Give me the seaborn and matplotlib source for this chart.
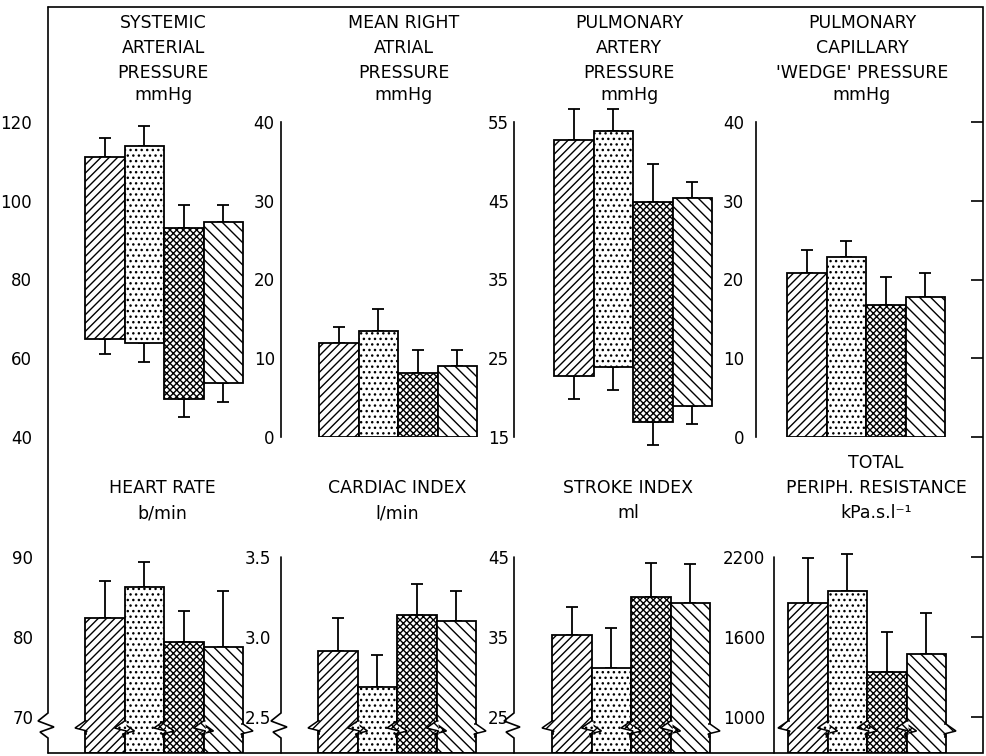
import numpy as np
import pandas as pd
import matplotlib
matplotlib.use("Agg")
import matplotlib.pyplot as plt
from matplotlib.patches import Polygon
from matplotlib.lines import Line2D
import seaborn as sns

W, H, DPI = 986, 756, 100

# ---- data -------------------------------------------------------------
conditions = ["I", "II", "III", "IV"]
hatches = ["////", "...", "xxxxx", "\\\\\\"]

# systemic arterial pressure: systolic (bar top) and diastolic (bar bottom), mmHg
sap_sys = [111.0, 114.0, 93.0, 94.7]
sap_sys_sd = [5.0, 5.0, 6.0, 4.3]
sap_dia = [65.0, 64.0, 49.6, 53.7]
sap_dia_sd = [4.0, 5.0, 4.6, 4.7]
sap_ticks = [40, 60, 80, 100, 120]

# mean right atrial pressure, mmHg
mrap = [12.0, 13.4, 8.1, 9.0]
mrap_sd = [2.0, 2.9, 2.9, 2.0]
mrap_ticks = [0, 10, 20, 30, 40]

# pulmonary artery pressure: systolic and diastolic, mmHg
pap_sys = [52.7, 53.9, 44.9, 45.4]
pap_sys_sd = [3.9, 2.7, 4.8, 2.0]
pap_dia = [22.8, 23.9, 16.9, 18.9]
pap_dia_sd = [3.0, 2.9, 2.9, 2.3]
pap_ticks = [15, 25, 35, 45, 55]

# pulmonary capillary wedge pressure, mmHg
pcwp = [20.8, 22.8, 16.8, 17.8]
pcwp_sd = [3.0, 2.1, 3.5, 3.0]
pcwp_ticks = [0, 10, 20, 30, 40]

# heart rate, b/min
hr = [82.4, 86.3, 79.4, 78.7]
hr_sd = [4.6, 3.1, 3.9, 7.0]
hr_ticks = [70, 80, 90]

# cardiac index, l/min
ci = [2.91, 2.69, 3.14, 3.10]
ci_sd = [0.21, 0.20, 0.19, 0.19]
ci_ticks = [2.5, 3.0, 3.5]
ci_tick_labels = ["2.5", "3.0", "3.5"]

# stroke index, ml
si = [35.2, 31.1, 40.0, 39.2]
si_sd = [3.6, 5.0, 4.2, 4.9]
si_ticks = [25, 35, 45]

# total peripheral resistance, kPa.s.l-1
tpr = [1853, 1945, 1335, 1472]
tpr_sd = [342, 275, 300, 306]
tpr_ticks = [1000, 1600, 2200]

titles = [
    ["SYSTEMIC", "ARTERIAL", "PRESSURE", "mmHg"],
    ["MEAN RIGHT", "ATRIAL", "PRESSURE", "mmHg"],
    ["PULMONARY", "ARTERY", "PRESSURE", "mmHg"],
    ["PULMONARY", "CAPILLARY", "'WEDGE' PRESSURE", "mmHg"],
    ["HEART RATE", "b/min"],
    ["CARDIAC INDEX", "l/min"],
    ["STROKE INDEX", "ml"],
    ["TOTAL", "PERIPH. RESISTANCE", "kPa.s.l\u207b\u00b9"],
]

# ---- style ------------------------------------------------------------
sns.set_style("white")
plt.rcParams["font.family"] = ["DejaVu Sans"]
plt.rcParams["text.color"] = "black"
plt.rcParams["ytick.color"] = "black"
plt.rcParams["ytick.labelcolor"] = "black"
plt.rcParams["hatch.linewidth"] = 1.0
plt.rcParams["hatch.color"] = "black"

LW = 1.3          # outline width (pt)
BAR_W = 39.5      # px per category
fig = plt.figure(figsize=(W / DPI, H / DPI), dpi=DPI)


def fx(px):
    return px / W


def fy(py):
    return 1 - py / H


def fig_line(points, lw=1.2):
    xs = [fx(p[0]) for p in points]
    ys = [fy(p[1]) for p in points]
    fig.add_artist(Line2D(xs, ys, transform=fig.transFigure, color="black",
                          lw=lw, solid_joinstyle="miter"))


def panel(xs, xb, xr, ytop, ybot, tops, up, ticks, labels, ylim, pad,
          bottoms=None, down=None, spine=True, right_ticks=False):
    ax = fig.add_axes([fx(xs), fy(ybot), (xr - xs) / W, (ybot - ytop) / H])
    ax.patch.set_visible(False)
    df = pd.DataFrame({"condition": conditions, "value": tops})
    sns.barplot(data=df, x="condition", y="value", hue="condition",
                order=conditions, hue_order=conditions,
                palette=["white"] * len(conditions), legend=False,
                width=1.0, edgecolor="black", linewidth=LW,
                errorbar=None, ax=ax, zorder=3)
    bars = sorted(ax.patches, key=lambda p: p.get_x())
    for i, (p, h) in enumerate(zip(bars, hatches)):
        lo = bottoms[i] if bottoms is not None else ylim[0]
        p.set_y(lo)
        p.set_height(tops[i] - lo)
        p.set_hatch(h)

    xpos = np.arange(len(conditions))
    zeros = np.zeros(len(conditions))
    ebs = [ax.errorbar(xpos, tops, yerr=[zeros, up], fmt="none",
                       ecolor="black", elinewidth=LW, capsize=4.5,
                       capthick=LW, zorder=2)]
    if bottoms is not None:
        ebs.append(ax.errorbar(xpos, bottoms, yerr=[down, zeros], fmt="none",
                               ecolor="black", elinewidth=LW, capsize=4.5,
                               capthick=LW, zorder=2))
    for eb in ebs:
        for art in list(eb.lines[1]) + list(eb.lines[2]):
            art.set_clip_on(False)

    ax.set_xlim(-0.5 - (xb - xs) / BAR_W, -0.5 + (xr - xb) / BAR_W)
    ax.set_ylim(*ylim)
    ax.set_xticks([])
    ax.set_xlabel("")
    ax.set_ylabel("")
    ax.set_yticks(ticks)
    ax.set_yticklabels(labels)
    for s in ["top", "right", "bottom"]:
        ax.spines[s].set_visible(False)
    ax.spines["left"].set_visible(spine)
    ax.spines["left"].set_linewidth(1.2)
    ax.spines["left"].set_color("black")
    ax.tick_params(axis="y", direction="in", length=9, width=1.2,
                   labelsize=12, pad=pad, right=right_ticks,
                   labelright=False, colors="black")
    return ax, bars


def title(xc, baselines, lines):
    for y, t in zip(baselines, lines):
        fig.text(fx(xc), fy(y), t, ha="center", va="baseline", fontsize=12.5,
                 color="black")


TOP = (122, 437)
BOT = (557, 753)


def broken_ylim(ticks):
    step = ticks[1] - ticks[0]
    return (ticks[0] - 0.45 * step, ticks[-1])


def str_labels(t):
    return [str(v) for v in t]


panel(48, 85, 250, *TOP, sap_sys, sap_sys_sd, sap_ticks, str_labels(sap_ticks),
      (40, 120), 11.5, bottoms=sap_dia, down=sap_dia_sd, spine=False)
panel(281, 319, 480, *TOP, mrap, mrap_sd, mrap_ticks, str_labels(mrap_ticks),
      (0, 40), 4.5)
panel(514, 554, 715, *TOP, pap_sys, pap_sys_sd, pap_ticks, str_labels(pap_ticks),
      (15, 55), 3.5, bottoms=pap_dia, down=pap_dia_sd)
panel(756, 787, 983, *TOP, pcwp, pcwp_sd, pcwp_ticks, str_labels(pcwp_ticks),
      (0, 40), 8.5, right_ticks=True)

bottom_axes = [
    panel(48, 85, 250, *BOT, hr, hr_sd, hr_ticks, str_labels(hr_ticks),
          broken_ylim(hr_ticks), 10.5, spine=False),
    panel(281, 318, 480, *BOT, ci, ci_sd, ci_ticks, ci_tick_labels,
          broken_ylim(ci_ticks), 7.0, spine=False),
    panel(514, 552, 715, *BOT, si, si_sd, si_ticks, str_labels(si_ticks),
          broken_ylim(si_ticks), 3.5, spine=False),
    panel(774, 788, 983, *BOT, tpr, tpr_sd, tpr_ticks, str_labels(tpr_ticks),
          broken_ylim(tpr_ticks), 6.5, spine=False, right_ticks=True),
]

# titles
top_base = [28, 53, 78, 100]
title(163, top_base, titles[0])
title(404, top_base, titles[1])
title(629, top_base, titles[2])
title(862, top_base, titles[3])
title(162, [493, 518], titles[4])
title(397, [493, 518], titles[5])
title(628, [493, 518], titles[6])
title(876, [468, 493, 518], titles[7])

# frame with a break on the left edge
ZZ0 = 713


def zigzag(x, y0):
    return [(x, y0), (x - 10, y0 + 8), (x + 6, y0 + 14), (x - 8, y0 + 19),
            (x, y0 + 25)]


fig_line([(48, 7), (983, 7), (983, 753), (48, 753)])
fig_line([(48, 7)] + zigzag(48, ZZ0) + [(48, 753)])
for xs in (281, 514):
    fig_line([(xs, 557)] + zigzag(xs, ZZ0) + [(xs, 753)])
fig_line([(774, 557), (774, 753)])

# break marks on the bars of the lower row
fig.canvas.draw()
for ax, bars in bottom_axes:
    for p, h in zip(bars, hatches):
        x0 = ax.transData.transform((p.get_x(), 0))[0]
        x1 = ax.transData.transform((p.get_x() + p.get_width(), 0))[0]
        yl, yr = 721, 724
        left = [(x0 + 2, yl), (x0, yl), (x0 - 10, yl + 7), (x0 + 2, yl + 10),
                (x0, yl + 13), (x0 + 2, yl + 13)]
        right = [(x1 - 2, yr), (x1, yr), (x1 + 10, yr + 7), (x1 - 2, yr + 10),
                 (x1, yr + 13), (x1 - 2, yr + 13)]
        for pts in (left, right):
            poly = Polygon([(fx(a), fy(b)) for a, b in pts], closed=False,
                           transform=fig.transFigure, facecolor="white",
                           edgecolor="black", hatch=h, lw=1.1, zorder=5)
            fig.add_artist(poly)

fig.savefig("out.png", dpi=DPI, facecolor="white")
